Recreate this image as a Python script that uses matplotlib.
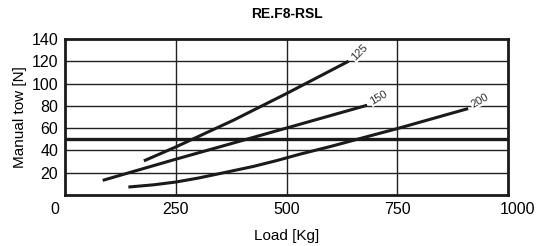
import matplotlib
matplotlib.use("Agg")
import matplotlib.pyplot as plt
import matplotlib.transforms as mtransforms

# curve data (load in kg, manual tow in N)
load_125 = [178, 250, 380, 500, 640]
tow_125 = [30.5, 43, 67, 91, 120]

load_150 = [85, 250, 500, 682]
tow_150 = [13, 32, 60, 80.5]

load_200 = [143, 200, 250, 300, 360, 425, 480, 530, 600, 670, 750, 830, 910]
tow_200 = [7, 9, 11.5, 15, 20, 25.5, 31, 36.5, 43.5, 51, 59.5, 68.5, 77.5]

limit_tow = 50
x_ticks = [0, 250, 500, 750, 1000]
y_ticks = [20, 40, 60, 80, 100, 120, 140]

plt.rcParams['font.family'] = ['Liberation Sans Narrow', 'Liberation Sans', 'DejaVu Sans']

fig = plt.figure(figsize=(5.36, 2.46), dpi=100)
ax = fig.add_axes([0.1213, 0.208, 0.8265, 0.6335])

ax.set_xlim(0, 1000)
ax.set_ylim(0, 140)

# grid
for gx in [250, 500, 750]:
    ax.axvline(gx, color='#222222', lw=1.0, zorder=1)
for gy in [20, 40, 60, 80, 100, 120]:
    ax.axhline(gy, color='#222222', lw=1.0, zorder=1)
ax.axhline(limit_tow, color='#1a1a1a', lw=2.4, zorder=2)

# curves
for xs, ys in [(load_125, tow_125), (load_150, tow_150), (load_200, tow_200)]:
    ax.plot(xs, ys, color='#1a1a1a', lw=2.2, solid_capstyle='butt', zorder=3)

# curve labels
lab_kw = dict(fontsize=8, ha='left', va='bottom', zorder=4, color='#333333',
              bbox=dict(facecolor='white', edgecolor='none', pad=0.5))
ax.text(load_125[-1] + 2, tow_125[-1] - 1, '125', rotation=45, **lab_kw)
ax.text(load_150[-1] + 2, tow_150[-1] - 1, '150', rotation=30, **lab_kw)
ax.text(load_200[-1] + 2, tow_200[-1] - 1, '200', rotation=30, **lab_kw)

ax.set_xticks(x_ticks)
ax.set_yticks(y_ticks)
ax.tick_params(length=0, labelsize=11.5, pad=5)

# first and last x labels sit a little outside the frame
xl = ax.get_xticklabels()
xl[0].set_transform(xl[0].get_transform() +
                    mtransforms.ScaledTranslation(-10 / 100, 0, fig.dpi_scale_trans))
xl[-1].set_transform(xl[-1].get_transform() +
                     mtransforms.ScaledTranslation(9 / 100, 0, fig.dpi_scale_trans))

for sp in ax.spines.values():
    sp.set_linewidth(2.0)
    sp.set_color('#1a1a1a')
    sp.set_zorder(5)

ax.set_xlabel('Load [Kg]', fontsize=11, labelpad=9)
ax.set_ylabel('Manual tow [N]', fontsize=11, labelpad=3)
ax.set_title('RE.F8-RSL', fontsize=10, fontweight='bold',
             family=['Liberation Sans', 'DejaVu Sans'], pad=15)

fig.savefig('out.png', dpi=100)
